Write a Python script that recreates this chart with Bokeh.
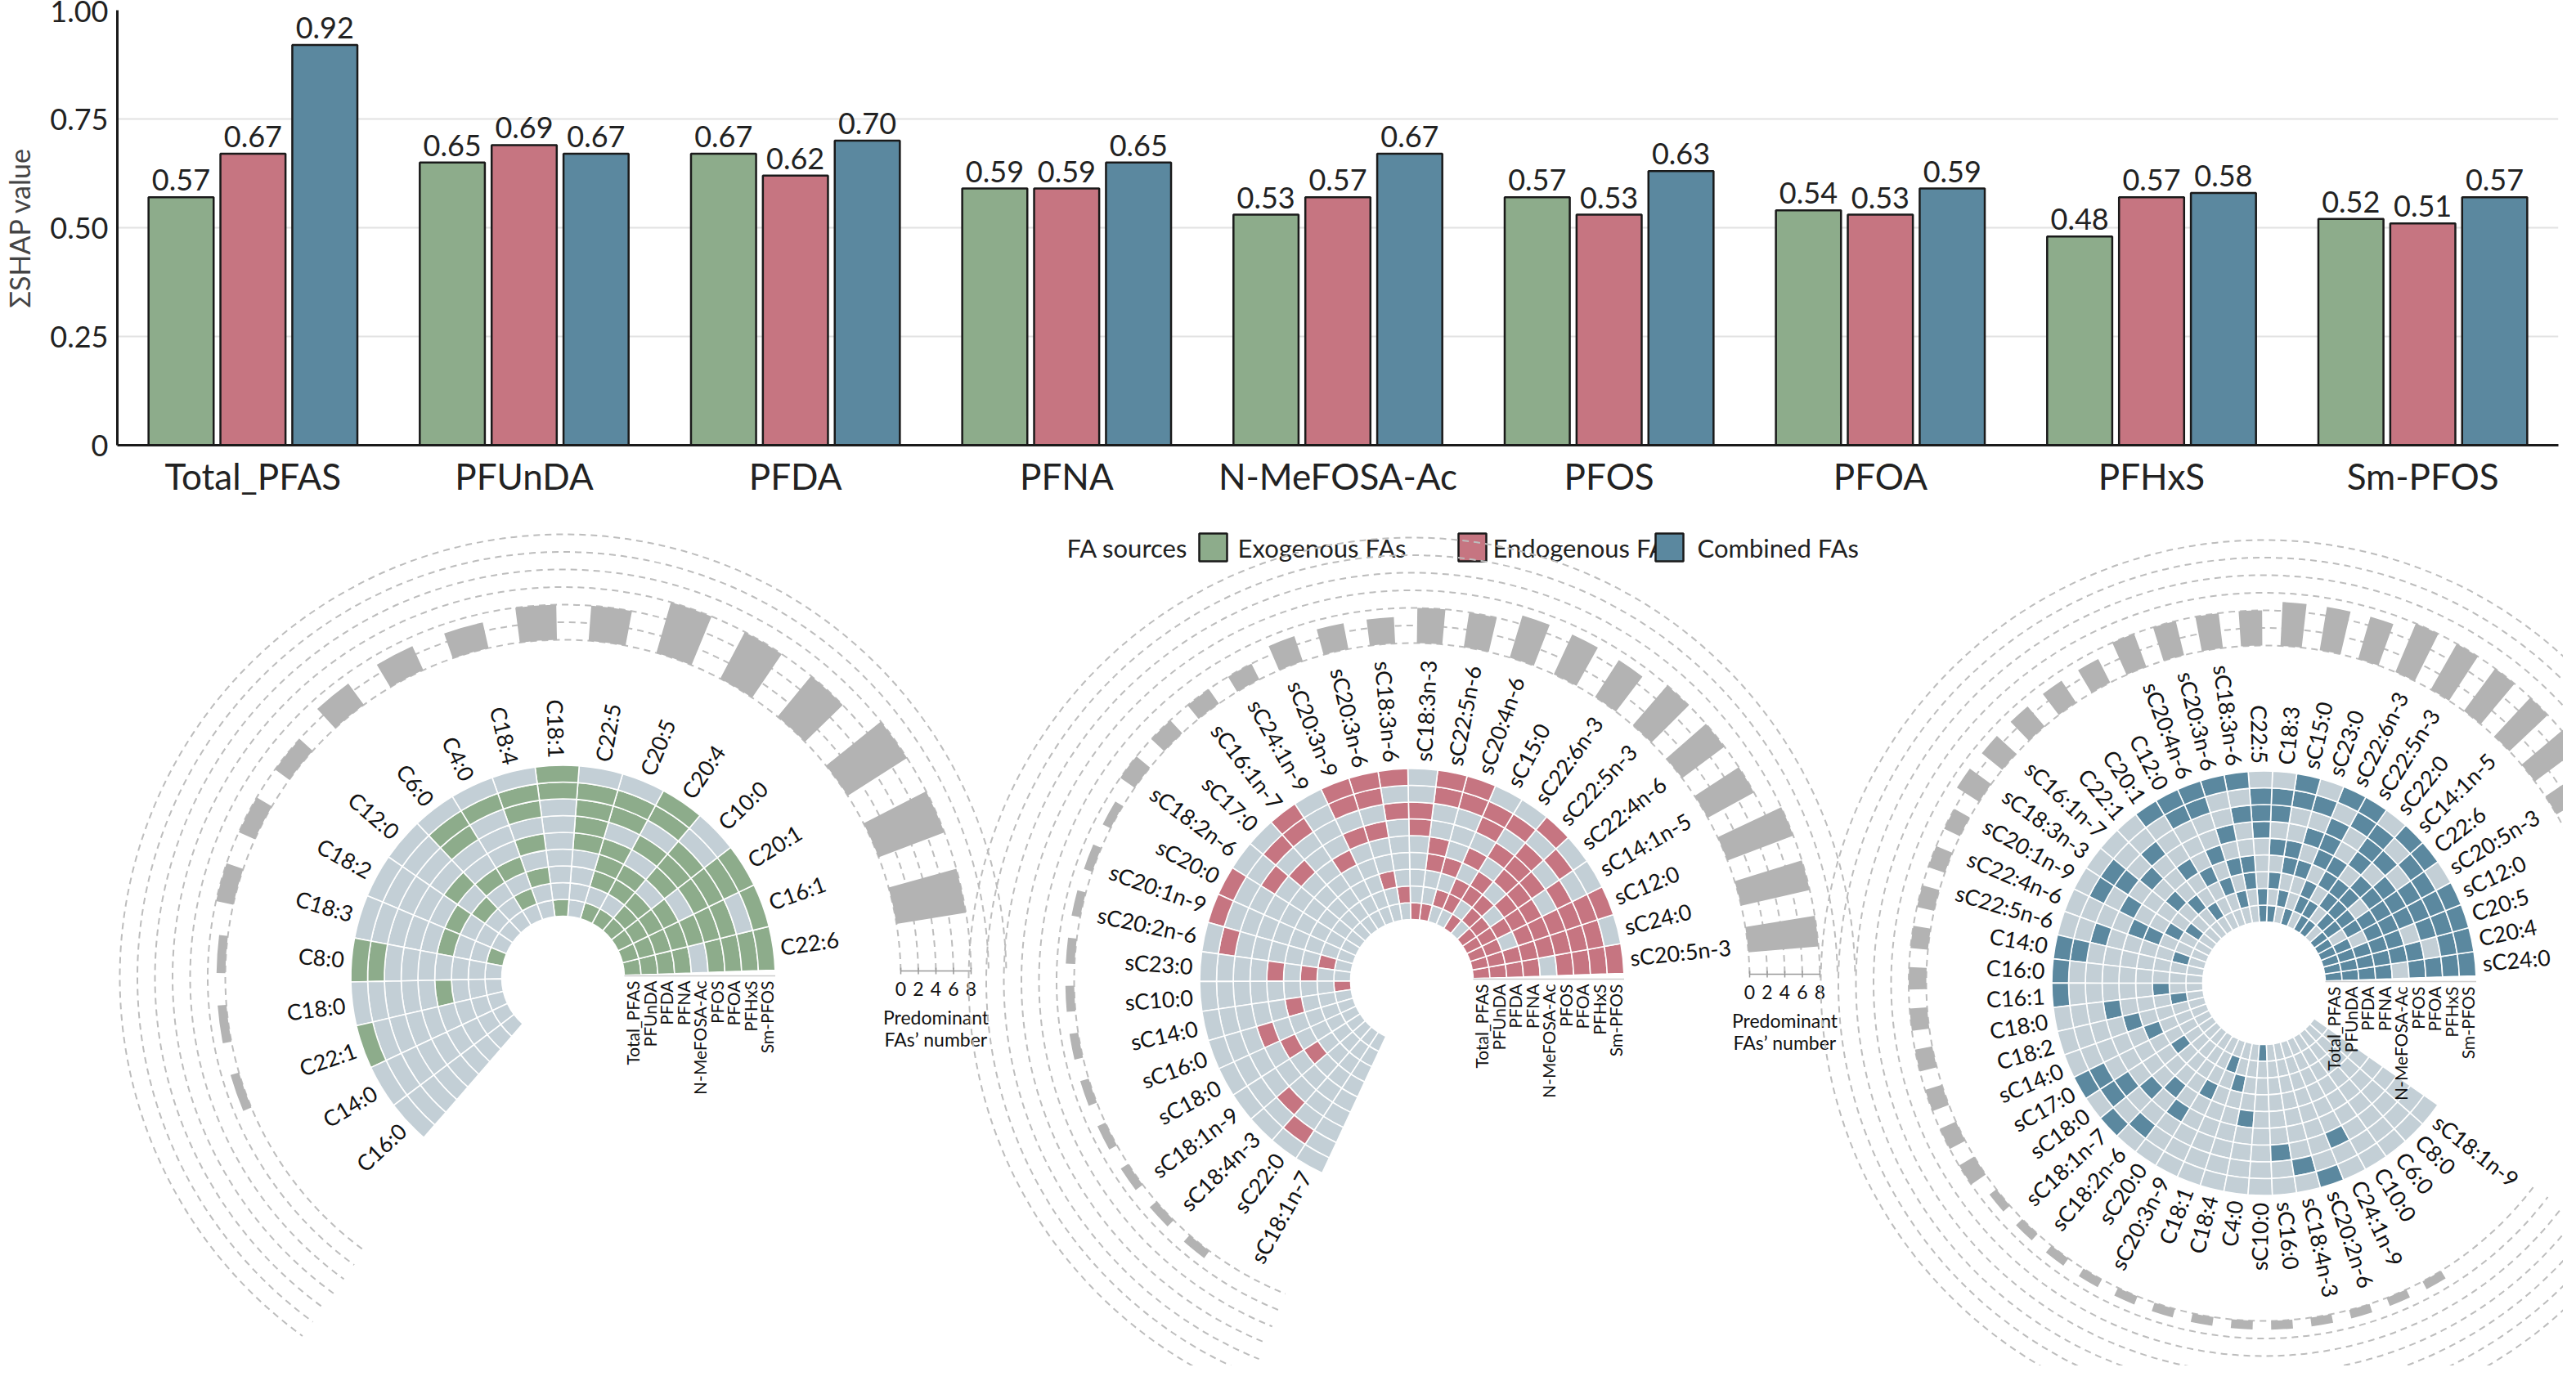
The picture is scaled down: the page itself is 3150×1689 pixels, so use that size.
import math
from bokeh.plotting import figure
from bokeh.layouts import column
from bokeh.models import ColumnDataSource, FixedTicker
from bokeh.core.properties import value
from bokeh.embed import file_html
from bokeh.resources import INLINE

FONT = "Lato"
# ---------------- data ----------------
groups = ["Total_PFAS", "PFUnDA", "PFDA", "PFNA", "N-MeFOSA-Ac", "PFOS", "PFOA", "PFHxS", "Sm-PFOS"]
exo = [0.57, 0.65, 0.67, 0.59, 0.53, 0.57, 0.54, 0.48, 0.52]
endo = [0.67, 0.69, 0.62, 0.59, 0.57, 0.53, 0.53, 0.57, 0.51]
comb = [0.92, 0.67, 0.70, 0.65, 0.67, 0.63, 0.59, 0.58, 0.57]
series_names = ["Exogenous FAs", "Endogenous FAs", "Combined FAs"]
colors = ["#8dac8b", "#c67581", "#5b889f"]
light = "#c3cfd6"

p1_fas = ["C22:6", "C16:1", "C20:1", "C10:0", "C20:4", "C20:5", "C22:5", "C18:1", "C18:4", "C4:0",
          "C6:0", "C12:0", "C18:2", "C18:3", "C8:0", "C18:0", "C22:1", "C14:0", "C16:0"]
p1_cells = ["111101111", "111111101", "111101111", "111011100", "101101011", "101110110", "000011110",
            "100000011", "001010110", "010100010", "000100110", "001010000", "000100000", "100100000",
            "000000011", "000100000", "000000001", "000000000", "000000000"]

p2_fas = ["sC20:5n-3", "sC24:0", "sC12:0", "sC14:1n-5", "sC22:4n-6", "sC22:5n-3", "sC22:6n-3", "sC15:0",
          "sC20:4n-6", "sC22:5n-6", "sC18:3n-3", "sC18:3n-6", "sC20:3n-6", "sC20:3n-9", "sC24:1n-9",
          "sC16:1n-7", "sC17:0", "sC18:2n-6", "sC20:0", "sC20:1n-9", "sC20:2n-6", "sC23:0", "sC10:0",
          "sC14:0", "sC16:0", "sC18:0", "sC18:1n-9", "sC18:4n-3", "sC22:0", "sC18:1n-7"]
p2_cells = ["111101111", "111111110", "110111111", "111110100", "110111010", "011011101", "101101010",
            "011010110", "010100011", "100110011", "100001100", "010000101", "001001011", "000001011",
            "000010000", "000000011", "000001010", "000000100", "000000001", "000000001", "010000010",
            "001010000", "100000000", "000100000", "000001000", "000010000", "000100000", "000000100",
            "000000010", "000000000"]

p3_fas = ["sC24:0", "C20:4", "C20:5", "sC12:0", "sC20:5n-3", "C22:6", "sC14:1n-5", "sC22:0", "sC22:5n-3",
          "sC22:6n-3", "sC23:0", "sC15:0", "C18:3", "C22:5", "sC18:3n-6", "sC20:3n-6", "sC20:4n-6", "C12:0",
          "C20:1", "C22:1", "sC16:1n-7", "sC18:3n-3", "sC20:1n-9", "sC22:4n-6", "sC22:5n-6", "C14:0",
          "C16:0", "C16:1", "C18:0", "C18:2", "sC14:0", "sC17:0", "sC18:0", "sC18:1n-7", "sC18:2n-6",
          "sC20:0", "sC20:3n-9", "C18:1", "C18:4", "C4:0", "sC10:0", "sC16:0", "sC18:4n-3", "sC20:2n-6",
          "C24:1n-9", "C10:0", "C6:0", "C8:0", "sC18:1n-9"]
p3_cells = ["111101111", "111111011", "111110111", "110111111", "101111110", "111011011", "011110101",
            "101101110", "110110011", "011011101", "100101010", "010110011", "101010110", "110001110",
            "001100101", "010101001", "001010011", "000100011", "010010001", "001000100", "000101000",
            "010000110", "001001010", "000110000", "010000100", "000000011", "000000001", "001000001",
            "010001000", "000010000", "000100000", "000000011", "001000110", "000001001", "000010010",
            "000001000", "000100000", "010000000", "001000000", "000010000", "100000000", "000000100",
            "000000010", "000000001", "000000100", "000000000", "000000000", "000000000", "000000000"]

track_ticks = [0, 2, 4, 6, 8]

# ---------------- top bar chart ----------------
p1 = figure(width=3134, height=640, x_range=(-0.5, 8.5), y_range=(0, 1.0),
            output_backend="svg", toolbar_location=None,
            min_border_left=133, min_border_right=6, min_border_top=12, min_border_bottom=96)
p1.outline_line_color = None
p1.xgrid.grid_line_color = None
p1.ygrid.grid_line_color = "#e2e2e2"
p1.ygrid.grid_line_width = 2
off = [-0.265, 0.0, 0.265]
for s, vals in enumerate([exo, endo, comb]):
    src = ColumnDataSource(dict(x=[i + off[s] for i in range(len(groups))], top=vals,
                                lab=["%.2f" % v for v in vals]))
    p1.vbar(x="x", top="top", width=0.24, bottom=0, source=src, fill_color=colors[s],
            line_color="#1a1a1a", line_width=2.5)
    p1.text(x="x", y="top", text="lab", source=src, text_align="center", text_baseline="bottom",
            y_offset=-8, text_font=value(FONT), text_font_size="36px", text_color="#222222")
p1.xaxis.ticker = FixedTicker(ticks=list(range(9)))
p1.xaxis.major_label_overrides = {i: g for i, g in enumerate(groups)}
p1.yaxis.ticker = FixedTicker(ticks=[0, 0.25, 0.5, 0.75, 1.0])
p1.yaxis.major_label_overrides = {0: "0", 0.25: "0.25", 0.5: "0.50", 0.75: "0.75", 1: "1.00"}
for ax in (p1.xaxis, p1.yaxis):
    ax.major_tick_line_color = None
    ax.minor_tick_line_color = None
    ax.axis_line_color = "#1a1a1a"
    ax.axis_line_width = 3
    ax.major_label_text_font = FONT
    ax.major_label_text_color = "#222222"
p1.xaxis.major_label_text_font_size = "44px"
p1.yaxis.major_label_text_font_size = "36px"
p1.yaxis.axis_label = "ΣSHAP value"
p1.yaxis.axis_label_text_font = FONT
p1.yaxis.axis_label_text_font_size = "34px"
p1.yaxis.axis_label_text_font_style = "normal"
p1.yaxis.axis_label_standoff = 14

# ---------------- bottom polar panels ----------------
W2, H2 = 3134, 1030
p2 = figure(frame_width=W2, frame_height=H2, x_range=(0, W2), y_range=(0, H2),
            output_backend="svg", toolbar_location=None,
            min_border_left=0, min_border_right=0, min_border_top=0, min_border_bottom=0,
            x_axis_location=None, y_axis_location=None)
p2.outline_line_color = None
p2.xgrid.visible = False
p2.ygrid.visible = False

def X(ox): return ox - 8
def Y(oy): return 1678 - oy

# legend
ly = Y(677)
p2.text(x=[X(1169)], y=[ly], text=["FA sources"], text_align="left", text_baseline="middle",
        text_font=value(FONT), text_font_size="31px", text_color="#222222")
for sx, tx, nm, c in zip([1348, 1665, 1906], [1378, 1690, 1940], series_names, colors):
    p2.rect(x=[X(sx)], y=[ly], width=34, height=34, fill_color=c, line_color="#1a1a1a", line_width=2.5)
    p2.text(x=[X(tx)], y=[ly], text=[nm], text_align="left", text_baseline="middle",
            text_font=value(FONT), text_font_size="31px", text_color="#222222")

R0, RW = 75, 20.5
TR0, TSC = 413, 10.75
panels = [
    dict(c=(553, 1203), fas=p1_fas, cells=p1_cells, col=colors[0], hs=2, he=229, arc=(1.2, 234), bs=12.3, bst=11.7),
    dict(c=(1591, 1207), fas=p2_fas, cells=p2_cells, col=colors[1], hs=2, he=245, arc=(1.2, 248), bs=7, bst=8.0),
    dict(c=(2633, 1210), fas=p3_fas, cells=p3_cells, col=colors[2], hs=2, he=325, arc=(1.2, 323), bs=5, bst=6.7),
]
for P in panels:
    cx, cy = X(P["c"][0]), Y(P["c"][1])
    n = len(P["fas"])
    w = (P["he"] - P["hs"]) / n
    d = dict(x=[], y=[], ir=[], orr=[], sa=[], ea=[], fc=[])
    for j, cells in enumerate(P["cells"]):
        for k, ch in enumerate(cells):
            d["x"].append(cx); d["y"].append(cy)
            d["ir"].append(R0 + k * RW); d["orr"].append(R0 + (k + 1) * RW)
            d["sa"].append(math.radians(P["hs"] + j * w)); d["ea"].append(math.radians(P["hs"] + (j + 1) * w))
            d["fc"].append(P["col"] if ch == "1" else light)
    p2.annular_wedge(x="x", y="y", inner_radius="ir", outer_radius="orr", start_angle="sa",
                     end_angle="ea", fill_color="fc", line_color="white", line_width=1.6,
                     source=ColumnDataSource(d))
    # column labels
    L = dict(x=[], y=[], t=[], a=[]); Rr = dict(x=[], y=[], t=[], a=[])
    rl = R0 + 9 * RW + 9
    for j, nm in enumerate(P["fas"]):
        th = math.radians(P["hs"] + (j + 0.5) * w)
        deg = math.degrees(th) % 360
        flip = 90 < deg < 270
        tgt = Rr if flip else L
        tgt["x"].append(cx + rl * math.cos(th)); tgt["y"].append(cy + rl * math.sin(th))
        tgt["t"].append(nm); tgt["a"].append(th - math.pi if flip else th)
    for S, al in ((L, "left"), (Rr, "right")):
        p2.text(x="x", y="y", text="t", angle="a", source=ColumnDataSource(S), text_align=al,
                text_baseline="middle", text_font=value(FONT), text_font_size="27px", text_color="#111111")
    # row labels
    p2.line(x=[cx + R0, cx + R0 + 9 * RW], y=[cy + 2, cy + 2], line_color="#cccccc", line_width=1.5)
    p2.text(x=[cx + R0 + RW * (k + 0.5) for k in range(9)], y=[cy - 4] * 9, text=groups,
            angle=math.pi / 2, text_align="right", text_baseline="middle",
            text_font=value(FONT), text_font_size="21px", text_color="#111111")
    # dashed track arcs
    for g in range(7):
        p2.arc(x=cx, y=cy, radius=TR0 + g * 2 * TSC, start_angle=math.radians(P["arc"][0]),
               end_angle=math.radians(P["arc"][1]), line_color="#bdbdbd", line_width=2, line_dash="8 6")
    # track bars (sorted column counts)
    counts = sorted([c.count("1") for c in P["cells"] if c.count("1") > 0], reverse=True)
    B = dict(x=[], y=[], ir=[], orr=[], sa=[], ea=[])
    for i, cnt in enumerate(counts):
        a = P["bs"] + i * P["bst"]
        B["x"].append(cx); B["y"].append(cy); B["ir"].append(TR0); B["orr"].append(TR0 + cnt * TSC)
        B["sa"].append(math.radians(a - P["bst"] * 0.27)); B["ea"].append(math.radians(a + P["bst"] * 0.27))
    p2.annular_wedge(x="x", y="y", inner_radius="ir", outer_radius="orr", start_angle="sa",
                     end_angle="ea", fill_color="#b3b3b3", line_color=None, source=ColumnDataSource(B))
    # track axis
    ay = cy + 8
    tx = [cx + TR0 + t * TSC for t in track_ticks]
    p2.line(x=[tx[0], tx[-1]], y=[ay, ay], line_color="#999999", line_width=1.5)
    p2.segment(x0=tx, y0=[ay - 4] * 5, x1=tx, y1=[ay + 4] * 5, line_color="#999999", line_width=1.5)
    p2.text(x=tx, y=[cy - 5] * 5, text=[str(t) for t in track_ticks],
            text_align="center", text_baseline="top", text_font=value(FONT), text_font_size="23px",
            text_color="#111111")
    p2.text(x=[tx[2]] * 2, y=[cy - 34, cy - 61], text=["Predominant", "FAs\u2019 number"],
            text_align="center", text_baseline="top", text_font=value(FONT), text_font_size="23px",
            text_color="#111111")

layout = column(p1, p2, spacing=0)
open("out.html", "w").write(file_html(layout, INLINE))
